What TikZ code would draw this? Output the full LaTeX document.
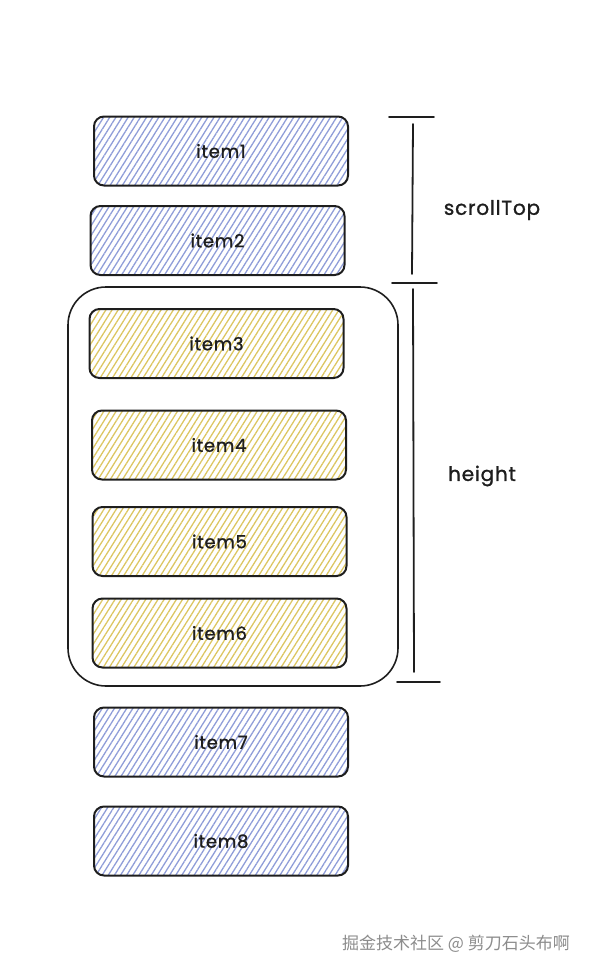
\documentclass[tikz,border=0pt]{standalone}
\usepackage{fontspec}
\setmainfont{Poppins}[LetterSpace=4, FakeBold=1.2]
\newfontfamily\cjk{Noto Sans CJK SC}
\usetikzlibrary{patterns.meta}
\definecolor{hatchblue}{HTML}{8F9DD8}
\definecolor{hatchyellow}{HTML}{DCC662}
\definecolor{inkline}{HTML}{1E1E1E}
\definecolor{wmgray}{HTML}{8C8C8C}
\tikzset{
  itembox/.style={draw=inkline, line width=2pt, rounded corners=10pt,
    minimum width=254pt, minimum height=69pt, inner sep=0pt,
    font=\fontsize{18}{21}\selectfont, text=inkline},
  bluebox/.style={itembox, pattern={Lines[angle=58, distance=5.2pt, line width=1.3pt]}, pattern color=hatchblue},
  yellowbox/.style={itembox, pattern={Lines[angle=58, distance=5.2pt, line width=1.3pt]}, pattern color=hatchyellow},
  frame/.style={draw=inkline, line width=1.6pt, rounded corners=38pt,
    minimum width=330pt, minimum height=399pt, inner sep=0pt},
  dimline/.style={draw=inkline, line width=1.8pt, line cap=round},
  dimlabel/.style={font=\fontsize{20}{24}\selectfont, text=inkline}
}
\begin{document}
\begin{tikzpicture}[x=1pt, y=-1pt]
\useasboundingbox (0,0) rectangle (592,970);
% container
\node[frame] (viewport) at (233,486.5) {};
% items
\node[bluebox]   (item1) at (221,151)   {item1};
\node[bluebox]   (item2) at (217.5,240.5) {item2};
\node[yellowbox] (item3) at (216.5,343.5) {item3};
\node[yellowbox] (item4) at (219,445)   {item4};
\node[yellowbox] (item5) at (219.5,541.5) {item5};
\node[yellowbox] (item6) at (219.5,633) {item6};
\node[bluebox]   (item7) at (221,742)   {item7};
\node[bluebox]   (item8) at (221,841)   {item8};
% dimension marks
\coordinate (t1l) at (389,117); \coordinate (t1r) at (434,117);
\coordinate (t2l) at (392,283); \coordinate (t2r) at (437,283);
\coordinate (t3l) at (397,682); \coordinate (t3r) at (440,682);
\coordinate (s1a) at (413,124); \coordinate (s1b) at (412,274);
\coordinate (s2a) at (413,289); \coordinate (s2b) at (414,672);
\draw[dimline] (t1l) -- (t1r);
\draw[dimline] (t2l) -- (t2r);
\draw[dimline] (t3l) -- (t3r);
\draw[dimline] (s1a) -- (s1b);
\draw[dimline] (s2a) -- (s2b);
\node[dimlabel] (scrolltop) at (492,210) {scrollTop};
\node[dimlabel] (height) at (482,476) {height};
% watermark
\node[font=\cjk\fontsize{17}{20}\selectfont, text=wmgray] (wm) at (456,944) {掘金技术社区 @ 剪刀石头布啊};
\end{tikzpicture}
\end{document}
